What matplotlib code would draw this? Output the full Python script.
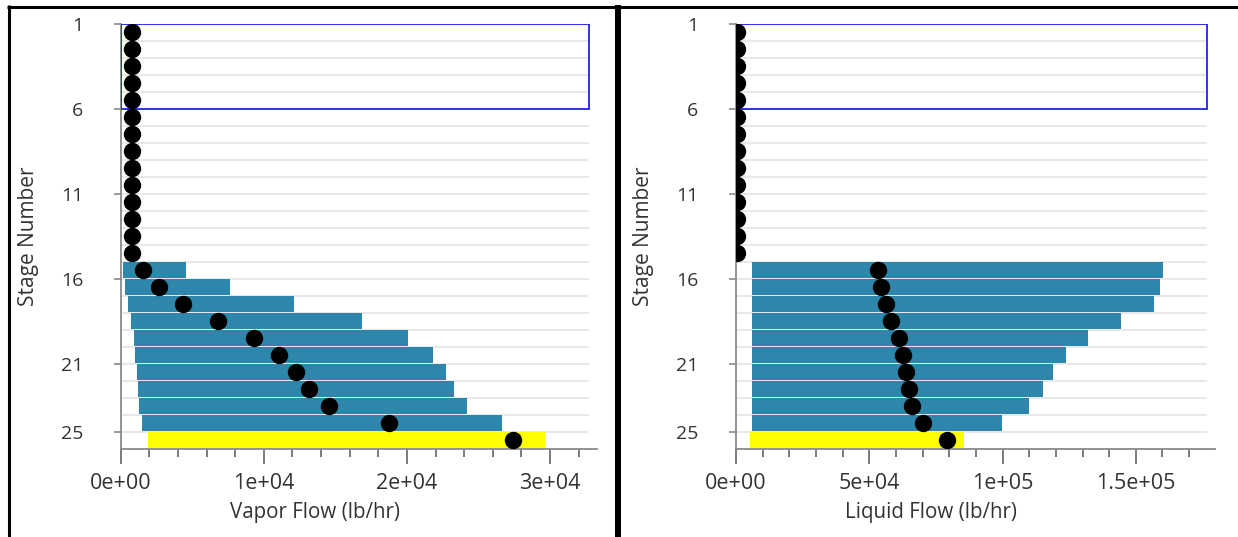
import matplotlib
matplotlib.use("Agg")
import matplotlib.pyplot as plt
from matplotlib.patches import Rectangle
from matplotlib.ticker import MultipleLocator, FixedLocator, FuncFormatter
from matplotlib.lines import Line2D

plt.rcParams['font.family'] = ['Open Sans', 'DejaVu Sans']

# ---- data ----
stages_all = list(range(1, 26))
# dot values (per stage 1..25)
vapor_dots = [800]*14 + [1540, 2650, 4380, 6820, 9290, 11060, 12230, 13140, 14540, 18770, 27430]
liquid_dots = [300]*14 + [53400, 54300, 56300, 58150, 61160, 62790, 63790, 64920, 66040, 70290, 79050]

bar_stages = list(range(15, 26))
vapor_low = [180, 300, 490, 700, 910, 1020, 1120, 1190, 1280, 1510, 1890]
vapor_high = [4560, 7620, 12130, 16880, 20100, 21800, 22710, 23310, 24220, 26670, 29670]
liquid_low = [5890]*10 + [5250]
liquid_high = [160340, 159220, 156960, 144470, 131970, 123830, 118840, 115080, 110060, 99900, 85670]

ytick_vals = [1, 6, 11, 16, 21, 25]
feed_box = (1, 6)   # stage range outlined in blue

BLUE = '#2E86AB'
YELLOW = '#FFFF00'
TXT = '#333333'

fig = plt.figure(figsize=(12.38, 5.37), dpi=100)
W, H = 1238, 537

def make_ax(left_px, right_px, top_px, bottom_px):
    return fig.add_axes([left_px / W, 1 - bottom_px / H, (right_px - left_px) / W, (bottom_px - top_px) / H])

def fmt_sci(v, pos):
    if v == 0:
        return '0e+00'
    m, e = ('%e' % v).split('e')
    m = ('%g' % float(m))
    return '%se+%02d' % (m, int(e))

def style(ax, xmax, grid_end, major, minor, xlabel, low, high, dots):
    ax.set_xlim(0, xmax)
    ax.set_ylim(26, 1)
    ax.hlines(range(1, 27), 0, grid_end, colors='#e6e6e6', lw=1.3, zorder=0)
    colors = [BLUE]*(len(bar_stages)-1) + [YELLOW]
    widths = [h - l for h, l in zip(high, low)]
    ax.barh(bar_stages, widths, left=low, height=0.92, align='edge', color=colors, zorder=2, linewidth=0)
    ax.add_patch(Rectangle((0, feed_box[0]), grid_end, feed_box[1] - feed_box[0], fill=False,
                           edgecolor='#2222EE', lw=1.3, zorder=4))
    ys = [s + 0.46 for s in stages_all]
    ax.plot(dots, ys, 'o', color='black', ms=11.5, zorder=5, clip_on=True)
    for sp in ['top', 'right']:
        ax.spines[sp].set_visible(False)
    for sp in ['left', 'bottom']:
        ax.spines[sp].set_color('#8a8a8a')
        ax.spines[sp].set_linewidth(1.3)
    ax.yaxis.set_major_locator(FixedLocator(ytick_vals))
    ax.xaxis.set_major_locator(MultipleLocator(major))
    ax.xaxis.set_minor_locator(MultipleLocator(minor))
    ax.xaxis.set_major_formatter(FuncFormatter(fmt_sci))
    ax.tick_params(axis='y', length=5, width=1.2, color='#8a8a8a', pad=22, labelsize=14, labelcolor=TXT)
    ax.tick_params(axis='x', which='major', length=11, width=1.3, color='#707070', pad=6, labelsize=15.5, labelcolor=TXT)
    ax.tick_params(axis='x', which='minor', length=6, width=1.3, color='#707070')
    ax.set_ylabel('Stage Number', fontsize=15, color=TXT)
    ax.yaxis.set_label_coords(-0.171, 0.5)
    ax.text(0.408, -0.15, xlabel, transform=ax.transAxes, ha='center', va='center', fontsize=14.8, color=TXT)

ax1 = make_ax(120.7, 597.3, 24, 449)
style(ax1, 33300, 32700, 10000, 2000, 'Vapor Flow (lb/hr)', vapor_low, vapor_high, vapor_dots)
ax2 = make_ax(736, 1215, 24, 449)
style(ax2, 179700, 176600, 50000, 10000, 'Liquid Flow (lb/hr)', liquid_low, liquid_high, liquid_dots)

def fline(x0, y0, x1, y1, lw):
    fig.add_artist(Line2D([x0 / W, x1 / W], [1 - y0 / H, 1 - y1 / H], color='black', lw=lw,
                          transform=fig.transFigure, solid_capstyle='butt'))
fline(7, 6.5, 1238, 6.5, 2.2)
fline(8.5, 5, 8.5, 537, 2.2)
fline(618, 5, 618, 537, 4.3)

fig.savefig('out.png', dpi=100, facecolor='white')
